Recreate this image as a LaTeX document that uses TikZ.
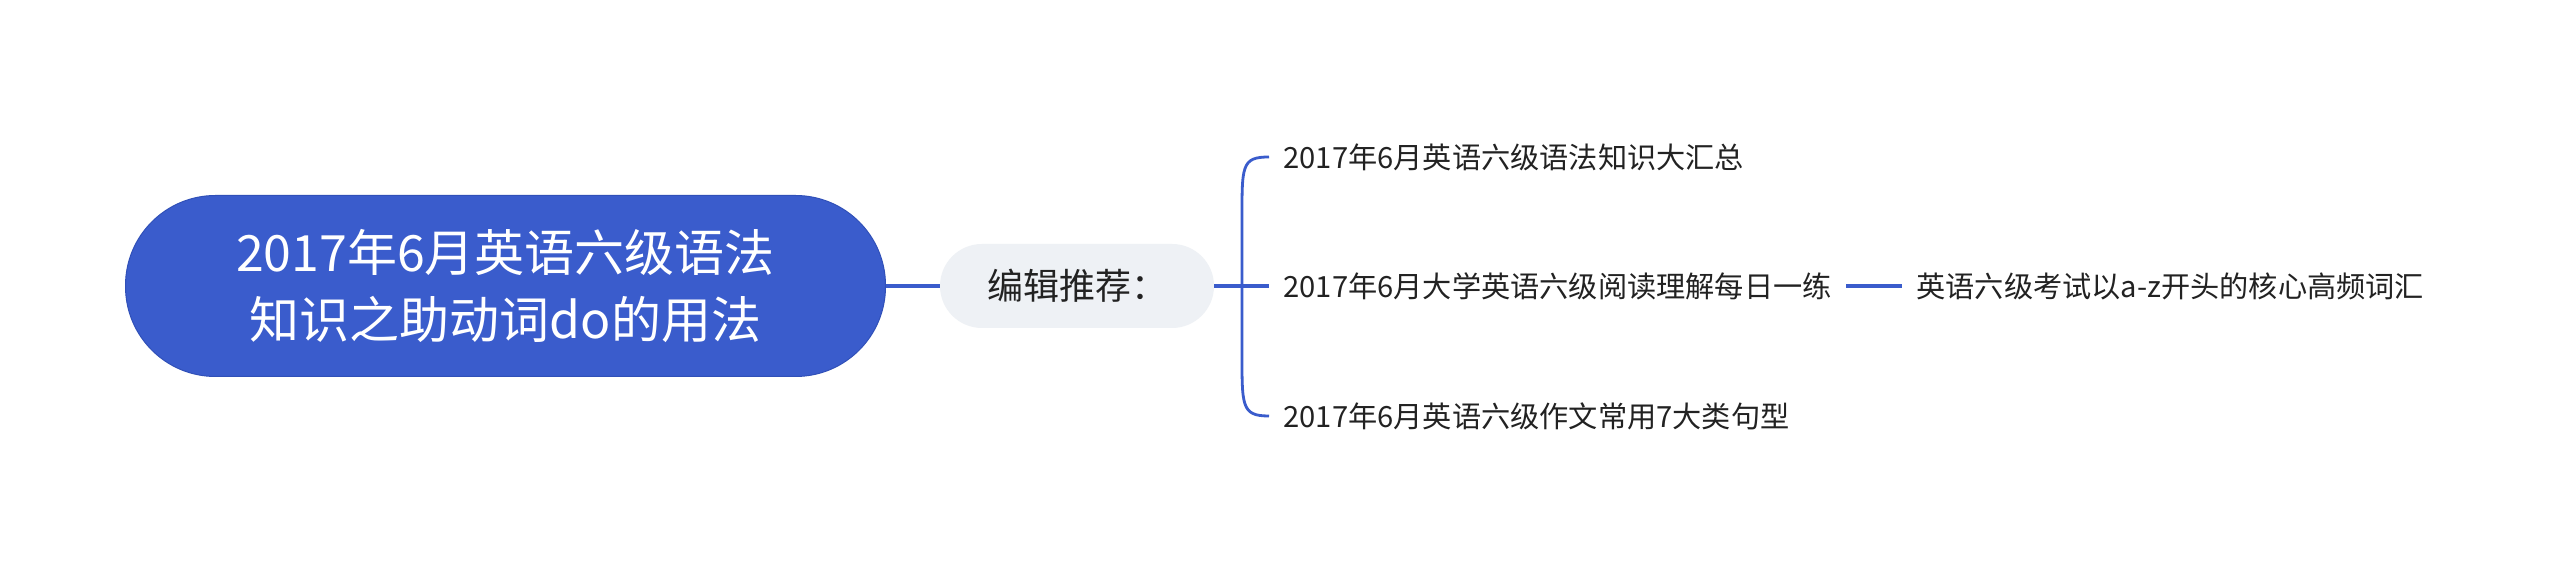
\documentclass[tikz,border=0pt]{standalone}
\usepackage{fontspec}
\setmainfont{Noto Sans CJK SC}
\definecolor{mapblue}{HTML}{3A5CCC}
\definecolor{mapedge}{HTML}{3050B8}
\definecolor{recgray}{HTML}{EEF1F5}
\definecolor{leaftext}{HTML}{222222}

\begin{document}
\begin{tikzpicture}[x=0.5pt,y=0.5pt,
  rootnode/.style={draw=mapedge,line width=0.5pt,fill=mapblue,text=white,rounded corners=45pt,
    minimum width=380pt,minimum height=90.5pt,align=center,font=\fontsize{25pt}{33.5pt}\selectfont},
  recnode/.style={fill=recgray,text=leaftext,rounded corners=21pt,
    minimum width=137pt,minimum height=42pt,font=\fontsize{18pt}{22pt}\selectfont},
  leafnode/.style={anchor=west,text=leaftext,inner xsep=7pt,inner ysep=2pt,font=\fontsize{14.6pt}{18pt}\selectfont},
  branch/.style={draw=mapblue,line width=1.7pt}]
\useasboundingbox[fill=white] (0,0) rectangle (2560,572);

\node[rootnode] (root) at (505.5,286) {2017年6月英语六级语法\\知识之助动词do的用法};
\node[recnode] (rec) at (1077,286) {编辑推荐：};
\coordinate (fork) at (1242,286);
\node[leafnode] (leaf1) at (1269,415) {2017年6月英语六级语法知识大汇总};
\node[leafnode] (leaf2) at (1269,286) {2017年6月大学英语六级阅读理解每日一练};
\node[leafnode] (leaf3) at (1269,156) {2017年6月英语六级作文常用7大类句型};
\node[leafnode] (leaf4) at ([xshift=28pt]leaf2.east) {英语六级考试以a-z开头的核心高频词汇};

\draw[branch] (root) -- (rec);
\draw[branch] (rec) -- (leaf2.west);
\draw[branch,line width=1.4pt] (leaf1.west) .. controls +(-14pt,0) and +(0,28pt) .. ([yshift=32pt]fork)
  -- ([yshift=-32pt]fork) .. controls +(0,-28pt) and +(-14pt,0) .. (leaf3.west);
\draw[branch] (leaf2.east) -- (leaf4.west);
\end{tikzpicture}
\end{document}
